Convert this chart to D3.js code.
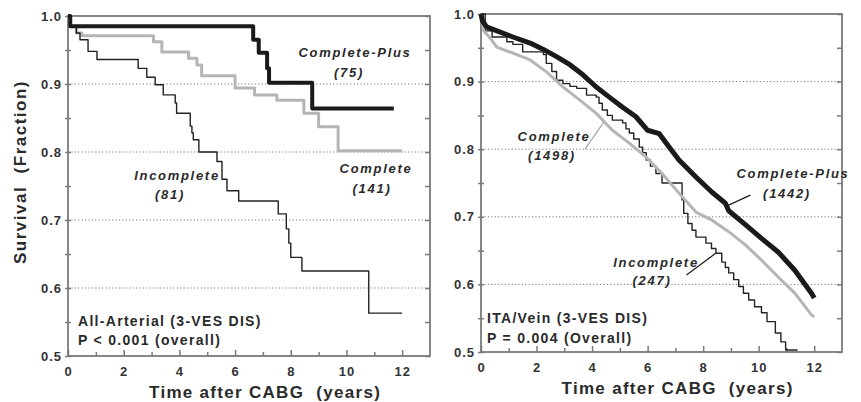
<!DOCTYPE html>
<html>
<head>
<meta charset="utf-8">
<script src="https://cdn.jsdelivr.net/npm/d3@7"></script>
<style>
  body { margin: 0; background: #fff; }
  svg { display: block; font-family: "Liberation Sans", Arial, sans-serif; }
  .tick text { font-size: 13px; font-weight: bold; fill: #333; letter-spacing: 1px; }
  .tick line { stroke: #7a7a7a; stroke-width: 1.5; }
</style>
</head>
<body>
<script>
// Kaplan-Meier survival data: [years, fraction]
// All-Arterial panel
const aaPlus = [[0,1],[0.08,0.985],[6.65,0.965],[6.85,0.946],[7.15,0.923],[7.22,0.902],[8.77,0.864],[11.7,0.864]];
const aaComplete = [[0,1],[0.05,0.985],[0.3,0.975],[0.5,0.971],[3.07,0.962],[3.37,0.947],[4.33,0.938],[4.63,0.928],
  [4.8,0.912],[6.0,0.894],[6.7,0.884],[7.5,0.876],[8.47,0.857],[9.0,0.837],[9.7,0.802],[12.0,0.802]];
const aaIncomplete = [[0,1],[0.1,0.985],[0.3,0.975],[0.43,0.965],[0.72,0.948],[1.04,0.936],[2.52,0.923],[2.83,0.91],
  [3.13,0.899],[3.42,0.884],[3.85,0.872],[3.9,0.857],[4.39,0.838],[4.45,0.828],[4.5,0.818],[4.7,0.8],[5.35,0.786],
  [5.53,0.76],[5.71,0.743],[6.13,0.728],[7.55,0.709],[7.84,0.687],[7.93,0.666],[8.0,0.645],[8.4,0.625],[10.8,0.563],[12.0,0.563]];

// ITA/Vein panel
const ivPlus = [[0,1],[0.05,0.99],[0.2,0.981],[1.15,0.966],[1.77,0.957],[2.23,0.948],[2.72,0.937],[3.2,0.925],[3.67,0.91],
  [4.15,0.892],[4.62,0.877],[5.1,0.862],[5.58,0.848],[6.0,0.828],[6.42,0.823],[6.78,0.803],[7.13,0.784],[7.74,0.759],
  [8.3,0.737],[8.8,0.72],[8.92,0.709],[9.53,0.688],[10.1,0.668],[10.7,0.648],[11.3,0.621],[11.9,0.587],[12,0.58]];
const ivComplete = [[0,1],[0.1,0.975],[0.3,0.966],[0.57,0.951],[1.15,0.942],[1.77,0.932],[2.37,0.914],[2.95,0.892],
  [3.55,0.873],[4.15,0.853],[4.73,0.828],[5.34,0.809],[5.95,0.788],[6.52,0.764],[7.13,0.735],[7.74,0.707],[8.32,0.695],
  [8.92,0.678],[9.53,0.658],[10.1,0.636],[10.7,0.611],[11.3,0.587],[11.9,0.555],[12,0.552]];
const ivIncomplete = [[0,1],[0.15,0.975],[0.4,0.966],[0.93,0.959],[1.15,0.955],[1.5,0.944],[2.25,0.94],[2.35,0.927],
  [2.55,0.915],[2.72,0.902],[2.95,0.897],[3.2,0.893],[3.45,0.89],[3.8,0.88],[4.15,0.877],[4.25,0.868],[4.37,0.858],
  [4.55,0.85],[4.73,0.843],[5.1,0.839],[5.22,0.83],[5.34,0.824],[5.5,0.815],[5.7,0.803],[5.82,0.795],[5.95,0.784],
  [6.1,0.775],[6.3,0.764],[6.52,0.75],[7.24,0.725],[7.3,0.705],[7.45,0.69],[7.6,0.68],[7.74,0.67],[8.1,0.661],
  [8.3,0.653],[8.46,0.646],[8.67,0.633],[8.8,0.625],[8.92,0.617],[9.1,0.607],[9.28,0.597],[9.45,0.587],[9.64,0.577],
  [9.85,0.567],[10.1,0.558],[10.3,0.545],[10.6,0.528],[10.8,0.515],[10.97,0.503],[11.4,0.503]];

// axis ticks
const xMajor = [0, 2, 4, 6, 8, 10, 12];
const xMinor = [1, 3, 5, 7, 9, 11];
const yMajor = [0.5, 0.6, 0.7, 0.8, 0.9, 1.0];
const yAll = [0.5, 0.55, 0.6, 0.65, 0.7, 0.75, 0.8, 0.85, 0.9, 0.95, 1.0];
const yGrid = [0.6, 0.7, 0.8, 0.9];

const W = 861, H = 402;
const svg = d3.select("body").append("svg").attr("width", W).attr("height", H);

const panels = [
  {
    x: [68, 430], y: [356, 16],
    series: [
      { data: aaComplete, color: "#b5b5b5", width: 3, curve: d3.curveStepAfter },
      { data: aaIncomplete, color: "#222", width: 1.4, curve: d3.curveStepAfter },
      { data: aaPlus, color: "#1a1a1a", width: 4, curve: d3.curveStepAfter }
    ],
    labels: [
      { text: "Complete-Plus", x: 355, y: 52 }, { text: "(75)", x: 349, y: 72 },
      { text: "Complete", x: 376, y: 168 }, { text: "(141)", x: 372, y: 188 },
      { text: "Incomplete", x: 177, y: 175 }, { text: "(81)", x: 170, y: 194 }
    ],
    leaders: [],
    notes: ["All-Arterial (3-VES DIS)", "P < 0.001 (overall)"], noteX: 78, noteY: [321, 340],
    xTitleY: 392
  },
  {
    x: [481, 842], y: [352, 14],
    series: [
      { data: ivIncomplete, color: "#222", width: 1.4, curve: d3.curveStepAfter },
      { data: ivComplete, color: "#b5b5b5", width: 3, curve: d3.curveLinear },
      { data: ivPlus, color: "#1a1a1a", width: 5, curve: d3.curveLinear }
    ],
    labels: [
      { text: "Complete", x: 554, y: 136 }, { text: "(1498)", x: 552, y: 155 },
      { text: "Complete-Plus", x: 793, y: 173 }, { text: "(1442)", x: 787, y: 193 },
      { text: "Incomplete", x: 656, y: 262 }, { text: "(247)", x: 652, y: 280 }
    ],
    // leader lines in data units: [t0, s0, t1, s1]
    leaders: [
      { p: [3.75, 0.8, 4.42, 0.84], color: "#aaa" },
      { p: [8.9, 0.717, 9.7, 0.732], color: "#222" },
      { p: [7.4, 0.614, 8.45, 0.646], color: "#222" }
    ],
    notes: ["ITA/Vein (3-VES DIS)", "P = 0.004 (Overall)"], noteX: 487, noteY: [318, 338],
    xTitleY: 388
  }
];

panels.forEach(p => {
  const x = d3.scaleLinear().domain([0, 13]).range(p.x);
  const y = d3.scaleLinear().domain([0.5, 1]).range(p.y);
  const g = svg.append("g");

  // dotted grid
  g.append("g").selectAll("line").data(yGrid).join("line")
    .attr("x1", p.x[0]).attr("x2", p.x[1])
    .attr("y1", d => y(d)).attr("y2", d => y(d))
    .attr("stroke", "#777").attr("stroke-width", 1).attr("stroke-dasharray", "1.2,2.2");

  // left axis: labels with short outward ticks, plus short inward ticks
  g.append("g").attr("transform", `translate(${p.x[0]},0)`)
    .call(d3.axisLeft(y).tickValues(yAll).tickSize(3).tickPadding(3)
      .tickFormat(d => yMajor.some(m => Math.abs(m - d) < 1e-6) ? d3.format(".1f")(d) : ""))
    .call(a => a.select(".domain").remove());
  g.append("g").attr("transform", `translate(${p.x[0]},0)`)
    .call(d3.axisLeft(y).tickValues(yAll).tickSize(-3).tickFormat(""))
    .call(a => a.select(".domain").remove());
  // right border ticks (inward)
  g.append("g").attr("transform", `translate(${p.x[1]},0)`)
    .call(d3.axisRight(y).tickValues(yAll).tickSize(-5).tickFormat(""))
    .call(a => a.select(".domain").remove());

  // bottom axis
  g.append("g").attr("transform", `translate(0,${p.y[0]})`)
    .call(d3.axisBottom(x).tickValues(xMajor).tickSize(-6).tickPadding(11).tickFormat(d3.format("d")))
    .call(a => a.select(".domain").remove());
  g.append("g").attr("transform", `translate(0,${p.y[0]})`)
    .call(d3.axisBottom(x).tickValues(xMinor).tickSize(-4).tickFormat(""))
    .call(a => a.select(".domain").remove());

  // frame
  g.append("rect")
    .attr("x", p.x[0]).attr("y", p.y[1])
    .attr("width", p.x[1] - p.x[0]).attr("height", p.y[0] - p.y[1])
    .attr("fill", "none").attr("stroke", "#7a7a7a").attr("stroke-width", 1.8);

  // survival curves
  p.series.forEach(s => {
    g.append("path")
      .datum(s.data)
      .attr("fill", "none")
      .attr("stroke", s.color)
      .attr("stroke-width", s.width)
      .attr("stroke-linejoin", "round")
      .attr("d", d3.line().x(d => x(d[0])).y(d => y(d[1])).curve(s.curve));
  });

  // leader lines
  g.append("g").selectAll("line").data(p.leaders).join("line")
    .attr("x1", d => x(d.p[0])).attr("y1", d => y(d.p[1]))
    .attr("x2", d => x(d.p[2])).attr("y2", d => y(d.p[3]))
    .attr("stroke", d => d.color).attr("stroke-width", 1.3);

  // curve labels
  g.append("g").selectAll("text").data(p.labels).join("text")
    .attr("x", d => d.x).attr("y", d => d.y).attr("dy", "0.35em")
    .attr("text-anchor", "middle")
    .style("font-size", "13px").style("font-weight", "bold").style("font-style", "italic")
    .style("letter-spacing", "1.7px").style("fill", "#2a2a2a")
    .text(d => d.text);

  // panel notes
  g.append("g").selectAll("text").data(p.notes).join("text")
    .attr("x", p.noteX).attr("y", (d, i) => p.noteY[i]).attr("dy", "0.35em")
    .style("font-size", "14px").style("font-weight", "bold")
    .style("letter-spacing", "1.3px").style("fill", "#2a2a2a")
    .text(d => d);

  // x title
  g.append("text")
    .attr("x", (x(0) + x(12)) / 2 + 30).attr("y", p.xTitleY).attr("dy", "0.35em")
    .attr("text-anchor", "middle")
    .style("font-size", "17px").style("font-weight", "bold")
    .style("letter-spacing", "1.3px").style("fill", "#2a2a2a")
    .style("white-space", "pre")
    .text("Time after CABG  (years)");
});

// y title
svg.append("text")
  .attr("transform", "translate(20,172) rotate(-90)")
  .attr("dy", "0.35em")
  .attr("text-anchor", "middle")
  .style("font-size", "17px").style("font-weight", "bold")
  .style("letter-spacing", "1.5px").style("fill", "#2a2a2a")
  .style("white-space", "pre")
  .text("Survival  (Fraction)");
</script>
</body>
</html>
